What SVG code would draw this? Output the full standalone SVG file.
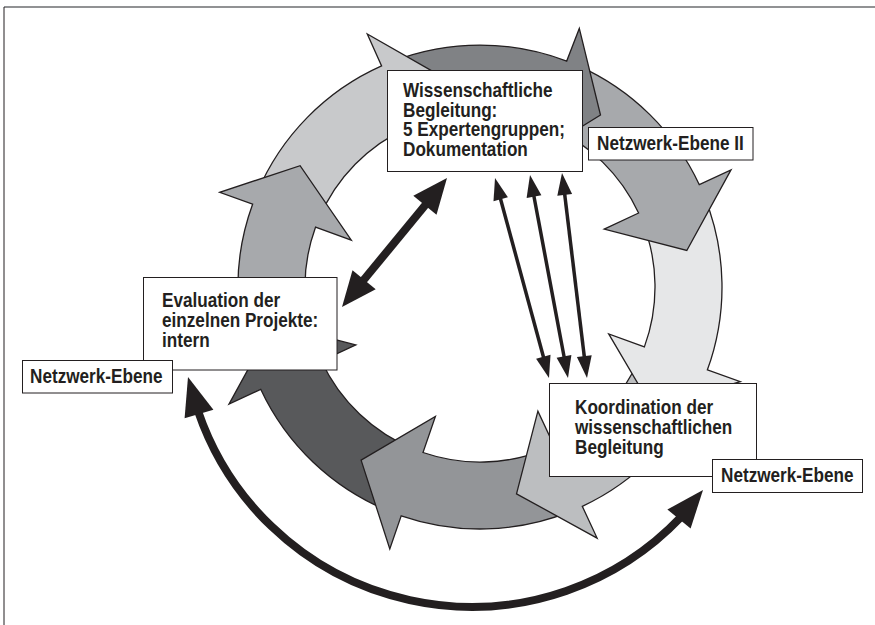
<svg xmlns="http://www.w3.org/2000/svg" width="875" height="625" viewBox="0 0 875 625">
<style>
.seg{stroke:#231f20;stroke-width:1.3;stroke-linejoin:miter}
.box{fill:#fff;stroke:#231f20;stroke-width:1}
.lbl{font-family:"Liberation Sans",Arial,sans-serif;font-weight:bold;font-size:19.5px;fill:#231f20}
.ah{fill:#231f20;stroke:none}
.thick{stroke:#231f20;stroke-width:8;fill:none}
.thin{stroke:#231f20;stroke-width:3.5;fill:none}
</style>
<rect width="875" height="625" fill="#fff"/>
<g id="frame" fill="none">
<line x1="4" y1="7" x2="875" y2="7" stroke="#6d6e71" stroke-width="1.5"/>
<line x1="4" y1="7" x2="4" y2="625" stroke="#231f20" stroke-width="1"/>
</g>
<g id="cycle">
<path id="seg8" class="seg" fill="#58595b" d="M389.4,511.4 A242,242 0 0 1 260.7,389.3 L229,404.1 L273.2,323.5 L355.8,344.9 L321.4,361 A175,175 0 0 0 414.4,449.3 Z"/>
<path id="seg7" class="seg" fill="#939598" d="M570.7,511.4 A242,242 0 0 1 401.2,515.8 L389.8,548.9 L361.1,460.1 L435.4,416.5 L423,452.5 A175,175 0 0 0 545.6,449.3 Z"/>
<path id="seg6" class="seg" fill="#bcbec0" d="M702.8,381.6 A242,242 0 0 1 582.3,506.3 L597.1,538.1 L516.5,493.8 L537.9,411.2 L554,445.6 A175,175 0 0 0 641.1,355.4 Z"/>
<path id="seg5" class="seg" fill="#e6e7e8" d="M704.4,196.4 A242,242 0 0 1 707.4,369.8 L740.3,381.7 L652,407.5 L608.7,333.9 L644.4,346.9 A175,175 0 0 0 642.3,221.4 Z"/>
<path id="seg4" class="seg" fill="#a7a9ac" d="M578.4,65.9 A242,242 0 0 1 699.3,184.7 L731,169.9 L686.8,250.5 L604.2,229.1 L638.6,213 A175,175 0 0 0 551.2,127.1 Z"/>
<path id="seg3" class="seg" fill="#808285" d="M393.3,61.1 A242,242 0 0 1 566.7,61.1 L579.3,28.4 L600.5,115 L529.1,159.1 L542.7,123.6 A175,175 0 0 0 417.3,123.6 Z"/>
<path id="seg2" class="seg" fill="#c8c9cb" d="M257.2,192.5 A242,242 0 0 1 381.6,65.9 L367.3,34 L447.2,79.6 L424.3,161.8 L408.8,127.1 A175,175 0 0 0 318.9,218.6 Z"/>
<path id="seg1" class="seg" fill="#a7a9ac" d="M241.7,329 A242,242 0 0 1 252.6,204.2 L219.7,192.3 L300.1,165.7 L351.3,240.1 L315.5,227.2 A175,175 0 0 0 307.7,317.4 Z"/>
</g>
<g id="connectors">
<line class="thick" x1="427" y1="203" x2="362" y2="282"/>
<polygon class="ah" points="447,178 436.5,214.7 413.3,195.7"/>
<polygon class="ah" points="342,307 375.7,289.3 352.5,270.3"/>
<line class="thin" x1="500" y1="197" x2="544" y2="359"/>
<polygon class="ah" points="495,178 507.9,197.2 493.5,201.2"/>
<polygon class="ah" points="549,378 550.5,354.8 536.1,358.8"/>
<line class="thin" x1="533.6" y1="194.5" x2="564.4" y2="358.5"/>
<polygon class="ah" points="530,175 541.4,195.2 526.6,198"/>
<polygon class="ah" points="568,378 571.4,355 556.6,357.8"/>
<line class="thin" x1="564.5" y1="192.8" x2="584.5" y2="358.2"/>
<polygon class="ah" points="562,173 572.1,193.9 557.3,195.7"/>
<polygon class="ah" points="587,378 591.7,355.3 576.9,357.1"/>
<path class="thick" stroke-width="7.5" d="M198,411 A289,289 0 0 0 681,517"/>
<polygon class="ah" points="188,377 213.4,409.7 184.6,418.3"/>
<polygon class="ah" points="703,490 690.6,528.6 667.4,509.4"/>
</g>
<g id="node-wiss">
<rect class="box" x="387.5" y="70.5" width="195" height="101"/>
<text class="lbl" transform="matrix(0.88 0 0 1 403 97)"><tspan x="0" y="0">Wissenschaftliche</tspan><tspan x="0" y="20">Begleitung:</tspan><tspan x="0" y="39.5">5 Expertengruppen;</tspan><tspan x="0" y="59">Dokumentation</tspan></text>
</g>
<g id="node-eval">
<rect class="box" x="143.5" y="277.5" width="193.5" height="92.5"/>
<text class="lbl" transform="matrix(0.88 0 0 1 162 307)"><tspan x="0" y="0">Evaluation der</tspan><tspan x="0" y="20">einzelnen Projekte:</tspan><tspan x="0" y="40">intern</tspan></text>
</g>
<g id="node-koord">
<rect class="box" x="549.5" y="383.5" width="207" height="93"/>
<text class="lbl" transform="matrix(0.88 0 0 1 575 414)"><tspan x="0" y="0">Koordination der</tspan><tspan x="0" y="20">wissenschaftlichen</tspan><tspan x="0" y="40">Begleitung</tspan></text>
</g>
<g id="label-ne2">
<rect class="box" x="588.5" y="127.5" width="164.5" height="32.5"/>
<text class="lbl" transform="matrix(0.88 0 0 1 597 150)">Netzwerk-Ebene II</text>
</g>
<g id="label-ne-left">
<rect class="box" x="22.5" y="360.5" width="150" height="32.5"/>
<text class="lbl" transform="matrix(0.88 0 0 1 30 383)">Netzwerk-Ebene</text>
</g>
<g id="label-ne-right">
<rect class="box" x="712.5" y="459.5" width="150" height="33"/>
<text class="lbl" transform="matrix(0.88 0 0 1 721 482)">Netzwerk-Ebene</text>
</g>
</svg>
